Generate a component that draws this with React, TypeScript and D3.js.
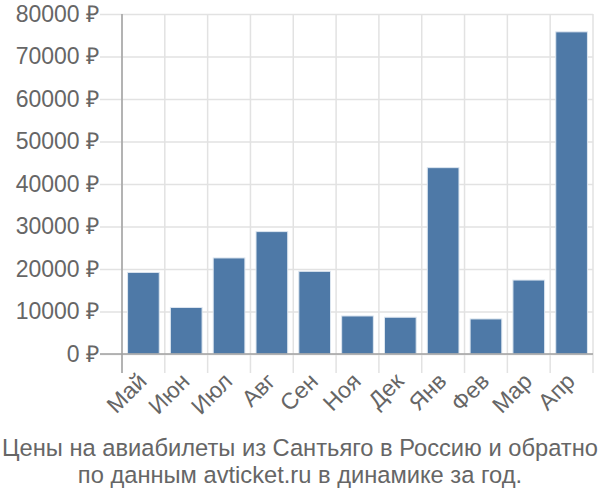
import { useEffect, useRef } from "react";
import { axisBottom, axisLeft, scaleBand, scaleLinear, select } from "d3";

const months = ["Май", "Июн", "Июл", "Авг", "Сен", "Ноя", "Дек", "Янв", "Фев", "Мар", "Апр"];
const prices = [19200, 10950, 22600, 28800, 19450, 8950, 8650, 43850, 8250, 17400, 75800];
const yTicks = [0, 10000, 20000, 30000, 40000, 50000, 60000, 70000, 80000];
const titleLines = [
  "Цены на авиабилеты из Сантьяго в Россию и обратно",
  "по данным avticket.ru в динамике за год.",
];

const FONT = "'Liberation Sans', Arial, sans-serif";

export default function App() {
  const svgRef = useRef<SVGSVGElement | null>(null);

  useEffect(() => {
    if (!svgRef.current) return;
    const svg = select(svgRef.current);
    svg.selectAll("*").remove();

    const margin = { top: 14, left: 122, right: 7 };
    const innerWidth = 600 - margin.left - margin.right;
    const innerHeight = 340;

    const x = scaleBand<string>().domain(months).range([0, innerWidth]).paddingInner(0.26).paddingOuter(0.13);
    const bands = scaleBand<string>().domain(months).range([0, innerWidth]);
    const y = scaleLinear().domain([0, 80000]).range([innerHeight, 0]);

    const chart = svg.append("g").attr("transform", `translate(${margin.left},${margin.top})`);

    // horizontal grid
    chart
      .append("g")
      .call(axisLeft(y).tickValues(yTicks).tickSize(-innerWidth - 22).tickFormat(() => ""))
      .attr("transform", "translate(-22,0)")
      .call((g) => g.select(".domain").remove())
      .call((g) => g.selectAll("line").attr("stroke", "#e2e2e2").attr("stroke-width", 1.5));

    // vertical grid (band edges)
    const edges = months.map((m) => bands(m) ?? 0).concat([innerWidth]);
    chart
      .append("g")
      .selectAll("line")
      .data(edges)
      .join("line")
      .attr("x1", (d) => d)
      .attr("x2", (d) => d)
      .attr("y1", 0)
      .attr("y2", innerHeight + 19)
      .attr("stroke", "#e2e2e2")
      .attr("stroke-width", 1.5);

    chart
      .append("g")
      .selectAll("rect")
      .data(prices)
      .join("rect")
      .attr("x", (_, i) => x(months[i]) ?? 0)
      .attr("y", (d) => y(d))
      .attr("width", x.bandwidth())
      .attr("height", (d) => innerHeight - y(d))
      .attr("fill", "#4e79a7")
      .attr("stroke", "#dde6f0")
      .attr("stroke-width", 1);

    // axis lines
    chart
      .append("line")
      .attr("x1", -22)
      .attr("x2", innerWidth)
      .attr("y1", innerHeight)
      .attr("y2", innerHeight)
      .attr("stroke", "#a0a0a0")
      .attr("stroke-width", 1.5);
    chart
      .append("line")
      .attr("x1", 0)
      .attr("x2", 0)
      .attr("y1", 0)
      .attr("y2", innerHeight + 19)
      .attr("stroke", "#a0a0a0")
      .attr("stroke-width", 1.5);

    // y labels
    const yAxisGroup = chart
      .append("g")
      .attr("transform", "translate(-22,0)")
      .call(axisLeft(y).tickValues(yTicks).tickSize(0).tickPadding(1).tickFormat((d) => `${d} ₽`));
    yAxisGroup.select(".domain").remove();
    yAxisGroup
      .selectAll("text")
      .attr("fill", "#666")
      .style("font-family", FONT)
      .style("font-size", "23px");

    // x labels
    const xAxisGroup = chart
      .append("g")
      .attr("transform", `translate(0,${innerHeight})`)
      .call(axisBottom(bands).tickSize(0).tickPadding(0));
    xAxisGroup.select(".domain").remove();
    xAxisGroup
      .selectAll("text")
      .attr("fill", "#666")
      .style("font-family", FONT)
      .style("font-size", "23px")
      .attr("text-anchor", "end")
      .attr("dy", "0.35em")
      .attr("transform", "translate(-1,23) rotate(-45)");

    svg
      .append("g")
      .selectAll("text")
      .data(titleLines)
      .join("text")
      .attr("x", 300)
      .attr("y", (_, i) => 456 + i * 27)
      .attr("text-anchor", "middle")
      .attr("fill", "#666")
      .style("font-family", FONT)
      .style("font-size", "23.7px")
      .text((d) => d);
  }, []);

  return (
    <div style={{ position: "absolute", left: 0, top: 0 }}>
      <svg ref={svgRef} width={600} height={500} style={{ display: "block" }} />
    </div>
  );
}
